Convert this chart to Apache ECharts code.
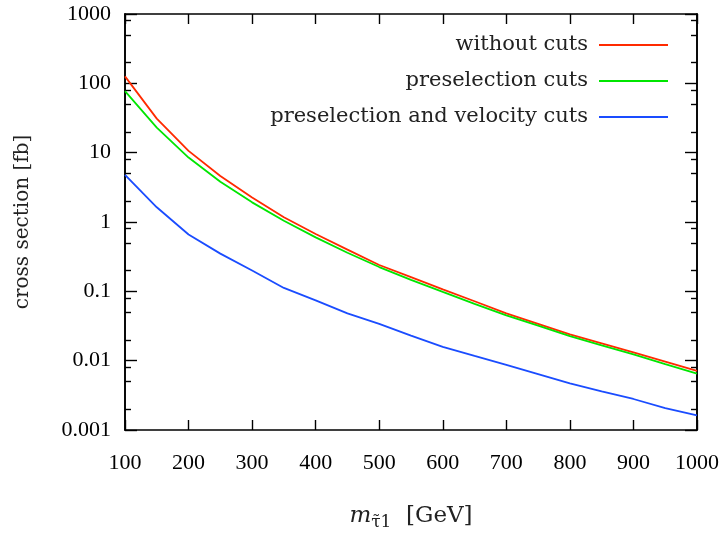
<!DOCTYPE html>
<html>
<head>
<meta charset="utf-8">
<script src="https://cdn.jsdelivr.net/npm/echarts@6/dist/echarts.min.js"></script>
<style>html,body{margin:0;padding:0;background:#fff}#c{width:723px;height:536px}</style>
</head>
<body>
<div id="c"></div>
<script>
const masses = [100,150,200,250,300,350,400,450,500,550,600,650,700,750,800,850,900,950,1000];
const withoutCuts = [126,31,10.6,4.6,2.26,1.17,0.67,0.40,0.24,0.16,0.107,0.072,0.048,0.034,0.024,0.0178,0.0132,0.0097,0.0071];
const preselCuts = [77,23,8.5,3.8,1.92,1.04,0.60,0.36,0.224,0.146,0.098,0.066,0.045,0.032,0.0226,0.0166,0.0123,0.0089,0.0065];
const preselVelCuts = [4.8,1.63,0.66,0.35,0.20,0.112,0.074,0.048,0.034,0.023,0.0158,0.0117,0.0087,0.0064,0.0047,0.0036,0.0028,0.00207,0.00162];
const seriesNames = ['without cuts','preselection cuts','preselection and velocity cuts'];
const yMajorTicks = [0.001,0.01,0.1,1,10,100,1000];
const yMinorTicks = [0.002,0.005,0.008,0.02,0.05,0.08,0.2,0.5,0.8,2,5,8,20,50,80,200,500,800];
const yTickLabels = {0.001:'0.001',0.01:'0.01',0.1:'0.1',1:'1',10:'10',100:'100',1000:'1000'};

const chart = echarts.init(document.getElementById('c'), null, {renderer:'canvas'});
const axisColor = '#000';
const serif = 'Liberation Serif';
const lblFont = 'DejaVu Serif';

function pairs(ys){ return masses.map((m,i)=>[m, ys[i]]); }

function yAxisBase(pos, ticks, len, labels){
  return {
    type:'log', logBase:10, min:0.001, max:1000, position:pos,
    axisLine:{show:true, lineStyle:{color:axisColor, width:1.6}},
    axisTick:{show:true, inside:true, length:len, customValues:ticks, lineStyle:{color:axisColor, width:1.4}},
    axisLabel:{show:labels, customValues: labels ? yMajorTicks : undefined, margin:14, color:'#000', fontFamily:serif, fontSize:22,
      formatter: v => yTickLabels[v] !== undefined ? yTickLabels[v] : String(v)},
    splitLine:{show:false}, minorTick:{show:false}
  };
}

const option = {
  backgroundColor:'#fff',
  animation:false,
  grid:{left:125, right:26, top:14, bottom:104, containLabel:false},
  legend:{
    orient:'vertical', right:50, top:29, align:'right',
    itemWidth:69, itemHeight:2, itemGap:14,
    icon:'rect',
    textStyle:{fontFamily:lblFont, fontSize:21, color:'#222', lineHeight:22, padding:[0,6,0,0]},
    data:seriesNames
  },
  xAxis:[
    {type:'value', min:100, max:1000, interval:100, position:'bottom',
     name:'{i|m}{s|τ̃1}  [GeV]', nameLocation:'middle', nameGap:72,
     nameTextStyle:{fontFamily:lblFont, fontSize:23, color:'#222',
       rich:{i:{fontFamily:lblFont, fontStyle:'italic', fontSize:23, color:'#222'},
             s:{fontFamily:lblFont, fontSize:17, color:'#222', padding:[12,0,0,0]}}},
     axisLine:{lineStyle:{color:axisColor, width:1.6}},
     axisTick:{inside:true, length:10, lineStyle:{color:axisColor, width:1.4}},
     axisLabel:{margin:22, color:'#000', fontFamily:serif, fontSize:22, formatter: v => String(v)},
     splitLine:{show:false}},
    {type:'value', min:100, max:1000, interval:100, position:'top',
     axisLine:{lineStyle:{color:axisColor, width:1.6}},
     axisTick:{inside:true, length:10, lineStyle:{color:axisColor, width:1.4}},
     axisLabel:{show:false}, splitLine:{show:false}}
  ],
  yAxis:[
    Object.assign(yAxisBase('left', yMajorTicks, 12, true), {
      name:'cross section [fb]', nameLocation:'middle', nameGap:92, nameRotate:90,
      nameTextStyle:{fontFamily:lblFont, fontSize:20, color:'#222'}}),
    yAxisBase('right', yMajorTicks, 12, false),
    yAxisBase('left', yMinorTicks, 6, false),
    yAxisBase('right', yMinorTicks, 6, false)
  ],
  series:[
    {name:seriesNames[0], type:'line', data:pairs(withoutCuts), showSymbol:false, symbol:'none', color:'#ff2a00', lineStyle:{width:1.8, color:'#ff2a00'}},
    {name:seriesNames[1], type:'line', data:pairs(preselCuts), showSymbol:false, symbol:'none', color:'#00e600', lineStyle:{width:1.8, color:'#00e600'}},
    {name:seriesNames[2], type:'line', data:pairs(preselVelCuts), showSymbol:false, symbol:'none', color:'#1a4cff', lineStyle:{width:1.8, color:'#1a4cff'}}
  ]
};
chart.setOption(option);
</script>
</body>
</html>
